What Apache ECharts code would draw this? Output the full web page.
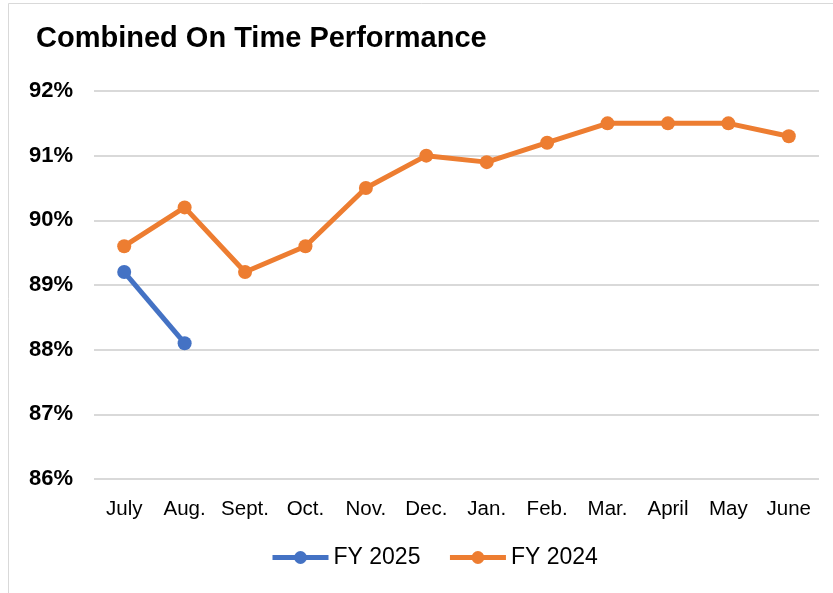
<!DOCTYPE html>
<html><head><meta charset="utf-8">
<script src="https://cdn.jsdelivr.net/npm/echarts@6/dist/echarts.min.js"></script>
<style>html,body{margin:0;padding:0;background:#fff}#c{width:833px;height:593px}</style>
</head><body><div id="c"></div>
<script>
const categories = ['July','Aug.','Sept.','Oct.','Nov.','Dec.','Jan.','Feb.','Mar.','April','May','June'];
const fy2025 = [89.2, 88.1, null, null, null, null, null, null, null, null, null, null];
const fy2024 = [89.6, 90.2, 89.2, 89.6, 90.5, 91.0, 90.9, 91.2, 91.5, 91.5, 91.5, 91.3];
const yTicks = {min: 86, max: 92, interval: 1};

const chart = echarts.init(document.getElementById('c'));
const font = 'Liberation Sans, Arial, sans-serif';
chart.setOption({
  animation: false,
  backgroundColor: '#fff',
  graphic: [{type:'rect', shape:{x:8.5,y:3.5,width:900,height:700}, style:{fill:'none', stroke:'#d9d9d9', lineWidth:1}, silent:true, z:-1}],
  title: {text:'Combined On Time Performance', left:31, top:19, textStyle:{fontFamily:font, fontSize:29, fontWeight:'bold', color:'#000'}},
  grid: {left:94, right:14, top:91, bottom:114},
  legend: {bottom:19, left:265, itemWidth:56, itemHeight:16, itemGap:27,
    lineStyle:{width:5},
    textStyle:{fontFamily:font, fontSize:23, color:'#000'},
    data:['FY 2025','FY 2024']},
  xAxis: {type:'category', data:categories, boundaryGap:true,
    axisLine:{show:false}, axisTick:{show:false},
    axisLabel:{interval:0, hideOverlap:false, fontFamily:font, fontSize:20.5, color:'#000', margin:20}},
  yAxis: {type:'value', min:yTicks.min, max:yTicks.max, interval:yTicks.interval,
    axisLabel:{formatter:'{value}%', fontFamily:font, fontSize:22, fontWeight:'bold', color:'#000', margin:21},
    splitLine:{lineStyle:{color:'#d9d9d9', width:2}}, axisLine:{show:false}, axisTick:{show:false}},
  series: [
    {name:'FY 2025', type:'line', data:fy2025, color:'#4472C4', symbol:'circle', symbolSize:14, lineStyle:{width:5}, connectNulls:false},
    {name:'FY 2024', type:'line', data:fy2024, color:'#ED7D31', symbol:'circle', symbolSize:14, lineStyle:{width:5}}
  ]
});
</script></body></html>
